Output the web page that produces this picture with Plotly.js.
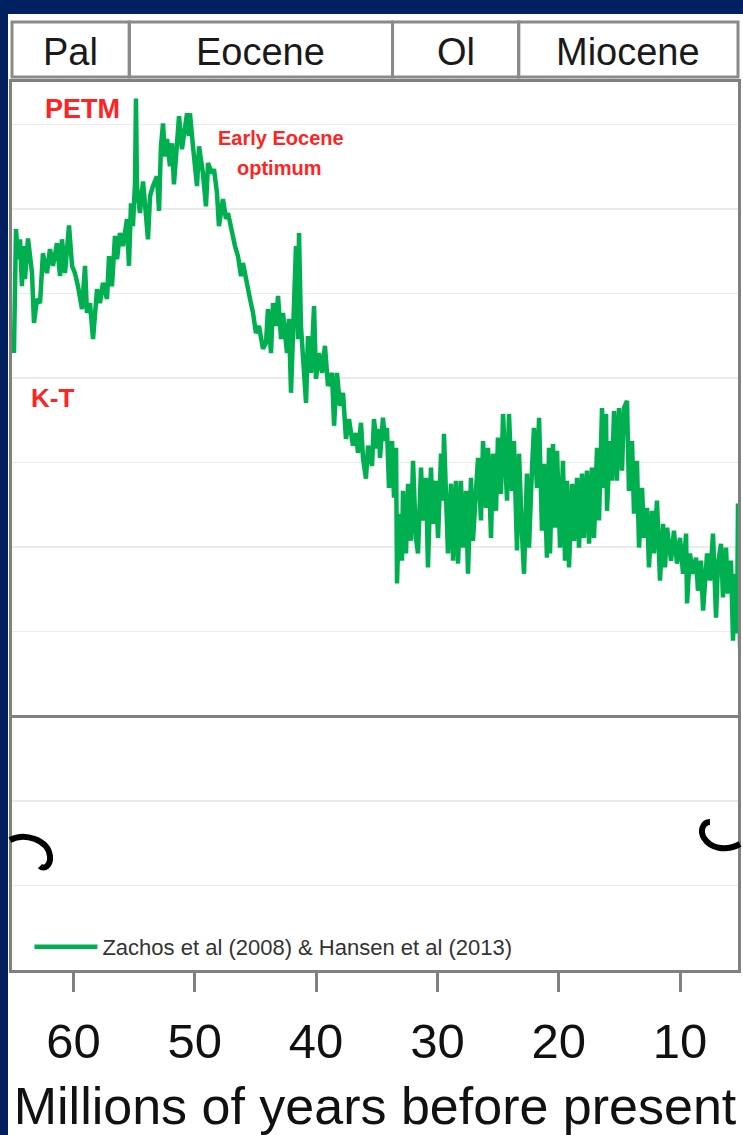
<!DOCTYPE html>
<html>
<head>
<meta charset="utf-8">
<script src="https://cdn.plot.ly/plotly-3.0.1.min.js"></script>
<style>
  html, body { margin: 0; padding: 0; background: #002060; width: 743px; height: 1135px; overflow: hidden; }
  #chart { position: absolute; left: 8px; top: 14px; width: 735px; height: 1121px; background: #fff; }
</style>
</head>
<body>
<div id="chart"></div>
<script>
// Age (millions of years before present) and temperature anomaly (°C)
const ageMa = [
64.91,64.74,64.58,64.41,64.25,64.16,64.00,63.75,63.42,63.26,63.01,62.76,62.52,62.19,61.94,61.69,61.36,61.11,60.95,60.70,
60.37,60.12,59.88,59.63,59.30,59.05,58.89,58.64,58.39,58.23,58.06,57.82,57.57,57.24,57.07,56.83,56.58,56.41,56.17,55.92,
55.59,55.43,55.26,55.10,54.93,54.85,54.77,54.52,54.27,54.11,53.86,53.69,53.45,53.12,52.95,52.79,52.62,52.46,52.29,52.05,
51.88,51.72,51.47,51.30,51.06,50.89,50.64,50.48,50.40,50.15,49.82,49.65,49.33,49.08,48.91,48.58,48.42,48.17,48.01,47.68,
47.43,47.26,46.93,46.69,46.44,46.19,46.03,45.70,45.45,45.20,44.96,44.71,44.38,44.13,43.97,43.72,43.55,43.31,43.14,42.89,
42.73,42.40,42.24,42.07,41.91,41.66,41.49,41.41,41.25,41.08,40.83,40.67,40.42,40.17,40.01,39.76,39.51,39.27,39.02,38.69,
38.52,38.28,38.03,37.78,37.54,37.29,36.96,36.71,36.55,36.30,36.13,35.89,35.72,35.39,35.23,34.98,34.82,34.73,34.49,34.32,
34.16,33.99,33.74,33.58,33.41,33.33,33.17,32.92,32.84,32.59,32.42,32.18,32.01,31.77,31.60,31.35,31.19,30.94,30.78,30.53,
30.36,30.12,29.95,29.70,29.54,29.46,29.29,29.13,28.88,28.71,28.47,28.30,28.06,27.89,27.64,27.48,27.23,27.07,26.82,26.65,
26.41,26.24,25.99,25.83,25.58,25.42,25.17,25.01,24.76,24.59,24.26,24.10,23.85,23.69,23.44,23.27,23.03,22.86,22.62,22.45,
22.20,22.04,21.79,21.62,21.38,21.21,20.97,20.80,20.72,20.47,20.31,20.14,19.89,19.65,19.48,19.32,19.15,18.90,18.74,18.49,
18.33,18.08,17.92,17.67,17.50,17.26,17.09,16.84,16.68,16.43,16.27,16.10,16.02,15.77,15.61,15.44,15.20,15.03,14.78,14.62,
14.37,14.21,13.96,13.79,13.55,13.38,13.13,12.97,12.72,12.56,12.31,12.15,11.90,11.65,11.40,11.24,11.07,10.74,10.50,10.25,
10.00,9.75,9.50,9.42,9.18,8.93,8.68,8.52,8.27,8.10,7.77,7.53,7.28,7.03,6.87,6.62,6.46,6.21,6.05,5.80,
5.63,5.47,5.30,5.22,5.05
];
const tempC = [
8.59,11.52,10.81,11.28,10.17,11.12,10.34,11.30,10.48,9.30,9.87,9.77,10.95,10.48,11.05,10.65,11.19,10.41,11.28,10.48,
11.61,10.65,10.48,10.17,9.63,10.65,9.54,9.77,8.92,9.40,10.10,9.77,10.25,9.87,10.88,10.17,11.36,10.81,11.43,11.12,
11.76,10.65,12.13,11.59,12.61,14.61,12.54,11.90,12.65,12.13,11.28,12.30,12.54,12.77,11.95,13.48,14.02,13.24,13.65,13.01,
13.55,12.58,13.72,14.19,13.41,13.79,14.26,13.72,14.26,13.48,12.54,13.48,12.84,12.06,13.08,12.84,12.94,12.37,11.59,12.23,
11.76,11.90,11.36,11.12,10.88,10.41,10.72,10.17,9.87,9.54,9.06,9.23,8.69,8.83,9.63,8.59,9.77,9.23,9.94,8.92,
9.54,8.59,9.40,7.65,9.23,11.12,8.92,11.43,9.23,8.59,7.41,8.99,8.12,9.70,7.98,8.59,8.12,8.76,7.81,8.12,
6.87,8.12,7.34,7.65,6.56,7.03,6.40,6.70,6.23,6.94,6.09,5.62,6.40,5.92,7.03,6.33,6.80,6.11,7.06,6.51,
6.82,5.40,6.51,5.17,6.35,3.14,4.79,3.68,5.33,3.85,5.50,4.15,6.04,4.22,3.85,5.88,4.63,5.64,3.52,5.88,
4.55,5.57,4.22,6.21,5.10,6.68,4.79,3.85,5.50,3.68,5.57,3.61,5.57,3.99,5.33,3.37,5.64,4.15,5.33,6.11,
4.63,6.51,4.93,6.35,4.22,6.21,4.86,6.59,5.26,7.15,5.10,7.15,5.33,6.51,3.92,6.21,4.32,3.37,5.74,3.99,
5.88,6.82,5.40,7.06,4.39,5.97,3.75,6.35,3.85,6.44,4.46,6.28,3.99,6.04,3.68,5.57,3.52,5.50,4.15,5.64,
3.99,5.74,4.22,5.81,4.08,5.88,4.22,6.35,4.63,7.29,5.40,7.15,4.86,6.51,5.57,7.22,5.57,7.29,5.81,7.29,
7.46,5.33,6.51,4.79,6.04,3.99,5.40,4.22,4.93,3.52,4.86,3.85,5.10,3.21,4.55,3.52,4.46,3.68,4.39,3.61,
4.22,3.37,4.32,2.67,3.85,3.37,3.75,2.97,3.68,2.50,3.85,3.21,4.32,2.33,3.61,4.08,2.81,3.99,2.90,3.68,
1.79,3.37,1.96,5.03,1.63
];
const seriesName = 'Zachos et al (2008) & Hansen et al (2013)';
const xRange = [65.07, 5.22];
const yRange = [-6, 15];
const tickVals = [60, 50, 40, 30, 20, 10];
const tickText = ['60', '50', '40', '30', '20', '10'];
const epochNames = ['Pal', 'Eocene', 'Ol', 'Miocene'];
const epochBounds = [55.4, 33.7, 23.3];

const FONT = 'Liberation Sans, Arial, sans-serif';
const toPaperX = a => (xRange[0] - a) / (xRange[0] - xRange[1]);
const edges = [xRange[0], ...epochBounds, xRange[1]];

const shapes = [];
const annotations = [];
for (let i = 0; i < epochNames.length; i++) {
  shapes.push({
    type: 'rect', xref: 'paper', yref: 'paper',
    x0: toPaperX(edges[i]), x1: toPaperX(edges[i + 1]),
    y0: 1.0056, y1: 1.0676,
    line: { color: '#8a8a8a', width: 3 }, fillcolor: 'rgba(0,0,0,0)'
  });
  annotations.push({
    text: epochNames[i], xref: 'x', yref: 'paper',
    x: (edges[i] + edges[i + 1]) / 2, y: 1.0335,
    xanchor: 'center', yanchor: 'middle', showarrow: false,
    font: { family: FONT, size: 38, color: '#1a1a1a' }
  });
}
// decorative curls
shapes.push({ type: 'path', xref: 'paper', yref: 'paper', layer: 'above',
  path: 'M -0.0028,0.1464 C 0.0179,0.1554 0.0496,0.1464 0.0523,0.1284 C 0.0537,0.1171 0.0441,0.1126 0.0386,0.1171',
  line: { color: '#000', width: 6 } });
shapes.push({ type: 'path', xref: 'paper', yref: 'paper', layer: 'above',
  path: 'M 0.9614,0.1667 C 0.9504,0.1667 0.9477,0.1554 0.9532,0.1486 C 0.9614,0.1374 0.9821,0.1329 1.0028,0.1419',
  line: { color: '#000', width: 6 } });

const red = '#ff2424';
annotations.push({ text: '<b>PETM</b>', xref: 'x', yref: 'y', x: 59.22, y: 14.37, showarrow: false,
  xanchor: 'center', yanchor: 'middle', font: { family: FONT, size: 27, color: red } });
annotations.push({ text: '<b>Early Eocene</b>', xref: 'x', yref: 'y', x: 42.89, y: 13.67, showarrow: false,
  xanchor: 'center', yanchor: 'middle', font: { family: FONT, size: 20, color: red } });
annotations.push({ text: '<b>optimum</b>', xref: 'x', yref: 'y', x: 43.06, y: 12.96, showarrow: false,
  xanchor: 'center', yanchor: 'middle', font: { family: FONT, size: 20, color: red } });
annotations.push({ text: '<b>K-T</b>', xref: 'x', yref: 'y', x: 61.77, y: 7.53, showarrow: false,
  xanchor: 'center', yanchor: 'middle', font: { family: FONT, size: 26, color: red } });

const trace = {
  x: ageMa, y: tempC, type: 'scatter', mode: 'lines', name: seriesName,
  line: { color: '#00b050', width: 4.5 }
};

const layout = {
  width: 735, height: 1121,
  margin: { l: 4, r: 5, t: 68, b: 165, pad: 0 },
  paper_bgcolor: '#ffffff', plot_bgcolor: '#ffffff',
  showlegend: true,
  legend: { x: 0.024, y: 0.026, xanchor: 'left', yanchor: 'middle', bgcolor: 'rgba(0,0,0,0)',
    itemwidth: 63, font: { family: FONT, size: 22, color: '#333' } },
  xaxis: {
    range: xRange, tickvals: tickVals, ticktext: tickText,
    ticks: 'outside', ticklen: 19, tickwidth: 3, tickcolor: '#808080',
    showline: true, linecolor: '#808080', linewidth: 3, mirror: true,
    showgrid: false, zeroline: false,
    tickfont: { family: FONT, size: 49, color: '#111' },
    ticklabelstandoff: 7,
    title: { text: 'Millions of years before present', font: { family: FONT, size: 52, color: '#111' }, standoff: 31 }
  },
  yaxis: {
    range: yRange, dtick: 2, tick0: 0, showticklabels: false, ticks: '',
    showgrid: true, gridcolor: '#ebebeb', gridwidth: 1.5,
    zeroline: true, zerolinecolor: '#808080', zerolinewidth: 3,
    showline: true, linecolor: '#808080', linewidth: 3, mirror: true
  },
  shapes: shapes,
  annotations: annotations
};

Plotly.newPlot('chart', [trace], layout, { displayModeBar: false, staticPlot: true });
</script>
</body>
</html>
